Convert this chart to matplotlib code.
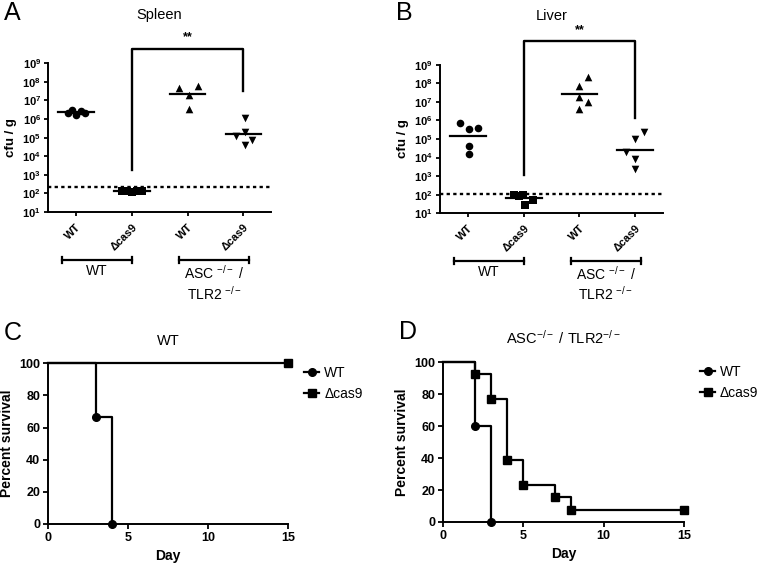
import matplotlib
matplotlib.use("Agg")
import matplotlib.pyplot as plt
import matplotlib.transforms as mtransforms
import numpy as np

plt.rcParams['font.family'] = ['Liberation Sans', 'DejaVu Sans']
plt.rcParams['mathtext.fontset'] = 'custom'
plt.rcParams['mathtext.rm'] = 'Liberation Sans'
plt.rcParams['mathtext.bf'] = 'Liberation Sans:bold'
plt.rcParams['mathtext.it'] = 'Liberation Sans:italic'

# ---------------- data ----------------
categories = ["WT", "\u0394cas9", "WT", "\u0394cas9"]
group_labels = ["WT", "ASC $^{-/-}$ /\nTLR2 $^{-/-}$"]
decade_ticks = [1, 2, 3, 4, 5, 6, 7, 8, 9]

# log10 cfu/g, spleen
spleen_wt = [6.30, 6.50, 6.20, 6.45, 6.30]
spleen_cas9 = [2.12, 2.15, 2.10, 2.15, 2.13]
spleen_asc_wt = [7.69, 7.30, 7.78, 6.53]
spleen_asc_cas9 = [6.05, 5.08, 5.29, 4.86, 4.59]
spleen_detect = 2.32

# log10 cfu/g, liver
liver_wt = [5.85, 5.55, 5.62, 4.65, 4.18]
liver_cas9 = [1.97, 2.00, 1.43, 1.70, 1.95]
liver_asc_wt = [8.37, 7.87, 7.25, 7.02, 6.62]
liver_asc_cas9 = [5.40, 4.98, 4.31, 3.90, 3.36]
liver_detect = 2.06

# survival
c_wt_days = [0, 3, 4]
c_wt_surv = [100, 66.7, 0]
c_cas9_days = [0, 15]
c_cas9_surv = [100, 100]
d_wt_days = [0, 2, 3]
d_wt_surv = [100, 60, 0]
d_cas9_days = [0, 2, 3, 4, 5, 7, 8, 15]
d_cas9_surv = [100, 92.3, 76.9, 38.5, 23.1, 15.4, 7.7, 7.7]

# jitter (visual horizontal offsets of points within a column)
spleen_jit = [[-0.15, -0.07, 0.0, 0.09, 0.16],
              [-0.18, -0.09, 0.0, 0.09, 0.18],
              [-0.15, 0.02, 0.18, 0.02],
              [0.02, -0.14, 0.02, 0.16, 0.02]]
liver_jit = [[-0.14, 0.02, 0.18, 0.02, 0.02],
             [-0.18, -0.02, 0.02, 0.16, -0.09],
             [0.16, 0.0, 0.0, 0.16, 0.0],
             [0.16, 0.0, -0.16, 0.0, 0.0]]

fig = plt.figure(figsize=(7.65, 5.64), dpi=100)

markers = ['o', 's', '^', 'v']
msizes = [30, 30, 30, 30]


def cfu_panel(ax, groups, jit, detect, title, letter, bracket):
    for i, (vals, dx) in enumerate(zip(groups, jit)):
        x = i + 1
        v = 10 ** np.array(vals)
        ax.scatter(x + np.array(dx[:len(vals)]), v, marker=markers[i],
                   s=msizes[i], color='black', zorder=3, linewidths=0)
        gm = 10 ** np.mean(vals)
        ax.plot([x - 0.32, x + 0.32], [gm, gm], color='black', lw=1.6, zorder=4)
    ax.axhline(10 ** detect, color='black', lw=1.7, ls=(0, (1.4, 1.4)), zorder=2)
    ax.set_yscale('log')
    ax.set_ylim(10 ** 1, 10 ** 9)
    ax.set_xlim(0.5, 4.5)
    ax.set_yticks([10.0 ** d for d in decade_ticks])
    ax.set_yticklabels([r'$\mathbf{10^{%d}}$' % d for d in decade_ticks], fontsize=8)
    ax.minorticks_off()
    ax.set_xticks([1, 2, 3, 4])
    ax.set_xticklabels(categories, rotation=45, ha='right', va='top',
                       rotation_mode='anchor', fontsize=8, fontweight='bold')
    ax.tick_params(axis='both', direction='out', length=3, width=1.3, pad=2)
    ax.tick_params(axis='x', pad=4)
    for s in ['top', 'right']:
        ax.spines[s].set_visible(False)
    for s in ['left', 'bottom']:
        ax.spines[s].set_linewidth(1.4)
    ax.set_ylabel('cfu / g', fontsize=9.5, fontweight='bold', labelpad=4)
    ax.set_title(title, fontsize=10.5, pad=32)
    # bracket
    lo_l, top, lo_r = bracket
    ax.plot([2, 2, 4, 4], [10 ** lo_l, 10 ** top, 10 ** top, 10 ** lo_r],
            color='black', lw=1.7, clip_on=False, zorder=4)
    ax.text(3, 10 ** (top + 0.3), '**', ha='center', va='bottom', fontsize=9,
            fontweight='bold')
    # group bars
    tr = mtransforms.blended_transform_factory(ax.transData, ax.transAxes)
    for (x0, x1), lab in zip([(0.75, 2.0), (2.85, 4.1)], group_labels):
        ax.plot([x0, x1], [-0.322, -0.322], color='black', lw=1.6,
                transform=tr, clip_on=False)
        for xx in (x0, x1):
            ax.plot([xx, xx], [-0.30, -0.345], color='black', lw=1.6,
                    transform=tr, clip_on=False)
        ax.text((x0 + x1) / 2, -0.35, lab, transform=tr, ha='center', va='top',
                fontsize=10, linespacing=1.15)
    fig.text(ax.get_position().x0 - 0.058, 0.998, letter, fontsize=18,
             va='top', ha='left')


axA = fig.add_axes([0.0627, 0.624, 0.292, 0.264])
cfu_panel(axA, [spleen_wt, spleen_cas9, spleen_asc_wt, spleen_asc_cas9],
          spleen_jit, spleen_detect, 'Spleen', 'A', (3.25, 9.75, 7.51))

axB = fig.add_axes([0.575, 0.622, 0.292, 0.263])
cfu_panel(axB, [liver_wt, liver_cas9, liver_asc_wt, liver_asc_cas9],
          liver_jit, liver_detect, 'Liver', 'B', (3.05, 10.26, 6.12))


def surv_panel(ax, wt_d, wt_s, cas_d, cas_s, title, letter):
    ax.step(wt_d, wt_s, where='post', color='black', lw=1.6, clip_on=False, zorder=3)
    ax.plot(wt_d[1:], wt_s[1:], 'o', color='black', ms=5.5, clip_on=False, zorder=4)
    ax.step(cas_d, cas_s, where='post', color='black', lw=1.6, clip_on=False, zorder=3)
    ax.plot(cas_d[1:], cas_s[1:], 's', color='black', ms=6, clip_on=False, zorder=4)
    ax.plot([], [], '-o', color='black', ms=5.5, lw=1.6, label='WT')
    ax.plot([], [], '-s', color='black', ms=6, lw=1.6, label='\u0394cas9')
    ax.set_xlim(0, 15)
    ax.set_ylim(0, 100)
    ax.set_xticks([0, 5, 10, 15])
    ax.set_yticks([0, 20, 40, 60, 80, 100])
    for lab in ax.get_xticklabels() + ax.get_yticklabels():
        lab.set_fontweight('bold')
        lab.set_fontsize(9)
    ax.tick_params(direction='out', length=3.5, width=1.3, pad=2)
    for s in ['top', 'right']:
        ax.spines[s].set_visible(False)
    for s in ['left', 'bottom']:
        ax.spines[s].set_linewidth(1.4)
    ax.set_xlabel('Day', fontsize=10, fontweight='bold', labelpad=4)
    ax.set_ylabel('Percent survival', fontsize=10, fontweight='bold', labelpad=4)
    ax.set_title(title, fontsize=10.5, pad=13)
    ax.legend(loc='upper left', bbox_to_anchor=(1.055, 1.0), frameon=False,
              fontsize=10, handlelength=1.1, handletextpad=0.35, labelspacing=0.5,
              borderaxespad=0.0, borderpad=0.2)
    fig.text(ax.get_position().x0 - 0.058, ax.get_position().y1 + 0.075, letter,
             fontsize=18, va='top', ha='left')


axC = fig.add_axes([0.0627, 0.071, 0.314, 0.285])
surv_panel(axC, c_wt_days, c_wt_surv, c_cas9_days, c_cas9_surv, 'WT', 'C')

axD = fig.add_axes([0.579, 0.0745, 0.315, 0.2835])
surv_panel(axD, d_wt_days, d_wt_surv, d_cas9_days, d_cas9_surv,
           'ASC$^{-/-}$ / TLR2$^{-/-}$', 'D')

fig.savefig('out.png', dpi=100)
